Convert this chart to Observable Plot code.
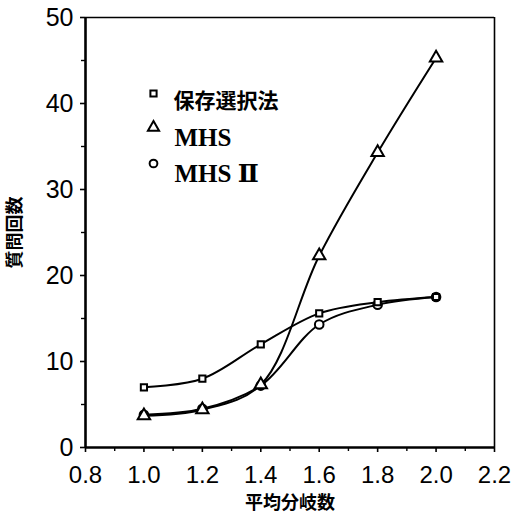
<!DOCTYPE html>
<html>
<head>
<meta charset="utf-8">
<script src="https://cdn.jsdelivr.net/npm/d3@7"></script>
<script src="https://cdn.jsdelivr.net/npm/@observablehq/plot@0.6"></script>
<style>
  html, body { margin: 0; padding: 0; background: white; }
</style>
</head>
<body>
<div id="chart"></div>
<script>
// Data
const branching = [1.0, 1.2, 1.4, 1.6, 1.8, 2.0];
const hozon = [7.0, 8.0, 12.0, 15.6, 16.9, 17.5];   // 保存選択法
const mhs = [3.7, 4.4, 7.3, 22.3, 34.3, 45.3];      // MHS
const mhs2 = [3.8, 4.5, 7.2, 14.3, 16.6, 17.5];     // MHS Ⅱ
const seriesNames = ["保存選択法", "MHS", "MHS Ⅱ"];
const xTicks = [0.8, 1.0, 1.2, 1.4, 1.6, 1.8, 2.0, 2.2];
const xMinor = [0.9, 1.1, 1.3, 1.5, 1.7, 1.9, 2.1];
const yTicks = [0, 10, 20, 30, 40, 50];
const yMinor = [5, 15, 25, 35, 45];
const xLabel = "平均分岐数";
const yLabel = "質問回数";

const rows = [];
[hozon, mhs, mhs2].forEach((vals, si) => {
  vals.forEach((v, i) => rows.push({series: seriesNames[si], x: branching[i], y: v}));
});
const bySeries = name => rows.filter(d => d.series === name);

const symbolOf = {"保存選択法": "square", "MHS": "triangle", "MHS Ⅱ": "circle"};
const rOf = {"保存選択法": 3.5, "MHS": 4.6, "MHS Ⅱ": 4.3};

const sansJP = "'Noto Sans CJK JP', 'Noto Sans', sans-serif";

const marks = [];
// frame lines
marks.push(Plot.ruleX([xTicks[xTicks.length - 1]], {stroke: "black", strokeWidth: 1.6}));
marks.push(Plot.ruleY([yTicks[yTicks.length - 1]], {stroke: "black", strokeWidth: 1.6}));
marks.push(Plot.ruleX([xTicks[0]], {stroke: "black", strokeWidth: 2.6}));
marks.push(Plot.ruleY([yTicks[0]], {stroke: "black", strokeWidth: 2.6}));
// axes
marks.push(Plot.axisX(xTicks, {tickFormat: d => d.toFixed(1), tickSize: 5, tickPadding: 13, strokeWidth: 1.6, fontSize: 24, label: null}));
marks.push(Plot.axisX(xMinor, {tickFormat: () => "", tickSize: 4, strokeWidth: 1.4, label: null}));
marks.push(Plot.axisY(yTicks, {tickSize: 5, tickPadding: 7, strokeWidth: 1.6, fontSize: 25, label: null}));
marks.push(Plot.axisY(yMinor, {tickFormat: () => "", tickSize: 4, strokeWidth: 1.4, label: null}));
// axis titles
marks.push(Plot.text([xLabel], {frameAnchor: "bottom", lineAnchor: "middle", textAnchor: "middle", dy: 56, fontFamily: sansJP, fontSize: 18, fontWeight: "bold"}));
marks.push(Plot.text([yLabel], {frameAnchor: "left", textAnchor: "middle", lineAnchor: "middle", dx: -70, rotate: -90, fontFamily: sansJP, fontSize: 18, fontWeight: "bold"}));
// lines
seriesNames.forEach(name => {
  marks.push(Plot.line(bySeries(name), {x: "x", y: "y", curve: "catmull-rom", stroke: "black", strokeWidth: 2}));
});
// dots
seriesNames.slice().reverse().forEach(name => {
  marks.push(Plot.dot(bySeries(name), {x: "x", y: "y", symbol: symbolOf[name], r: rOf[name], stroke: "black", strokeWidth: 2, fill: "white"}));
});
// legend
const legendDy = [76, 110, 146];
seriesNames.forEach((name, i) => {
  marks.push(Plot.dot([name], {frameAnchor: "top-left", dx: 68, dy: legendDy[i], symbol: symbolOf[name], r: rOf[name] * (i === 0 ? 1 : 0.9), stroke: "black", strokeWidth: 2, fill: "white"}));
  const jp = i === 0;
  marks.push(Plot.text([name], {
    frameAnchor: "top-left", dx: jp ? 88 : 89, dy: legendDy[i] + (jp ? 0 : 1),
    textAnchor: "start",
    fontFamily: jp ? sansJP : "'Liberation Serif', 'DejaVu Serif', serif",
    fontSize: jp ? 21 : 25, fontWeight: "bold"
  }));
});

const chart = Plot.plot({
  width: 515,
  height: 516,
  marginLeft: 85,
  marginRight: 21,
  marginTop: 17,
  marginBottom: 69,
  x: {domain: [xTicks[0], xTicks[xTicks.length - 1]]},
  y: {domain: [yTicks[0], yTicks[yTicks.length - 1]]},
  style: {fontFamily: "'Liberation Sans', Arial, sans-serif", color: "black", background: "white", overflow: "visible"},
  marks
});
document.getElementById("chart").appendChild(chart);
</script>
</body>
</html>
